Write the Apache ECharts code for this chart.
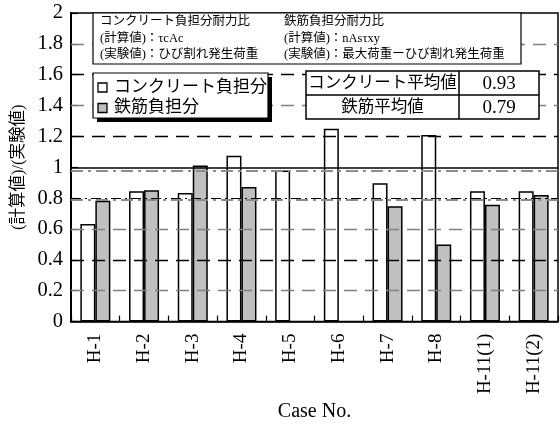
<!DOCTYPE html>
<html>
<head>
<meta charset="utf-8">
<script src="https://cdn.jsdelivr.net/npm/echarts@6/dist/echarts.min.js"></script>
<style>
  html, body { margin: 0; padding: 0; background: #fff; }
  #chart { width: 560px; height: 427px; }
</style>
</head>
<body>
<div id="chart"></div>
<script>
// Specimen labels along the x axis
const cases = ['H-1', 'H-2', 'H-3', 'H-4', 'H-5', 'H-6', 'H-7', 'H-8', 'H-11(1)', 'H-11(2)'];
// Ratio (calculated / experimental) for the concrete share
const concreteRatio = [0.632, 0.844, 0.834, 1.075, 0.979, 1.25, 0.897, 1.209, 0.844, 0.844];
// Ratio (calculated / experimental) for the reinforcement share (no value for H-5, H-6)
const steelRatio = [0.783, 0.852, 1.011, 0.873, null, null, 0.748, 0.500, 0.758, 0.821];
// Averages shown in the summary table
const averageLabels = ['コンクリート平均値', '鉄筋平均値'];
const averageValues = ['0.93', '0.79'];
// Horizontal guide lines
const gridValues = [0.2, 0.4, 0.6, 0.8, 1.0, 1.2, 1.4, 1.6, 1.8];
const refValues = [0.983, 0.79];
// Legend / note texts
const seriesNames = ['コンクリート負担分', '鉄筋負担分'];
const noteLeft = ['コンクリート負担分耐力比', '(計算値)：τcAc', '(実験値)：ひび割れ発生荷重'];
const noteRight = ['鉄筋負担分耐力比', '(計算値)：nAsτxy', '(実験値)：最大荷重ーひび割れ発生荷重'];

const SERIF = '"Liberation Serif", "Noto Sans CJK JP", serif';

const chart = echarts.init(document.getElementById('chart'), null, { renderer: 'canvas' });

// style for each guide line: gray / black dashes, solid at 1, dash-dot at 0.8
function gridStyle(v) {
  if (Math.abs(v - 1.0) < 1e-6) return { color: '#000', width: 1.5, type: 'solid' };
  if (Math.abs(v - 0.8) < 1e-6) return { color: '#000', width: 1.2, type: [10, 4, 2, 4] };
  const gray = [0.2, 0.6, 1.4, 1.8].some(g => Math.abs(g - v) < 1e-6);
  return { color: gray ? '#808080' : '#000', width: 1.3, type: [13, 8] };
}

const guideLines = gridValues.map(v => ({ yAxis: v, lineStyle: gridStyle(v) }))
  .concat(refValues.map(v => ({ yAxis: v, lineStyle: { color: '#8c8c8c', width: 2, type: [12, 5, 3, 5] } })));

const graphics = [];
// note box at the top
graphics.push({
  type: 'rect', z: 100, shape: { x: 93, y: 13, width: 428, height: 51 },
  style: { fill: '#fff', stroke: '#000', lineWidth: 1.2 }
});
noteLeft.forEach((t, i) => graphics.push({
  type: 'text', z: 101, x: 100, y: 22 + i * 16.5,
  style: { text: t, font: '12.5px ' + SERIF, fill: '#000', textVerticalAlign: 'middle' }
}));
noteRight.forEach((t, i) => graphics.push({
  type: 'text', z: 101, x: 284, y: 22 + i * 16.5,
  style: { text: t, font: '12.5px ' + SERIF, fill: '#000', textVerticalAlign: 'middle' }
}));
// legend box with drop shadow
graphics.push({
  type: 'rect', z: 100, shape: { x: 97, y: 77, width: 175, height: 45 },
  style: { fill: '#000' }
});
graphics.push({
  type: 'rect', z: 101, shape: { x: 93, y: 73, width: 175, height: 45 },
  style: { fill: '#fff', stroke: '#000', lineWidth: 1.2 }
});
const swatch = ['#ffffff', '#c0c0c0'];
seriesNames.forEach((n, i) => {
  graphics.push({
    type: 'rect', z: 102, shape: { x: 98, y: 83 + i * 20.5, width: 9, height: 9 },
    style: { fill: swatch[i], stroke: '#000', lineWidth: 1.3 }
  });
  graphics.push({
    type: 'text', z: 102, x: 114, y: 87.5 + i * 20.5,
    style: { text: n, font: '17px ' + SERIF, fill: '#000', textVerticalAlign: 'middle' }
  });
});
// average table
graphics.push({
  type: 'rect', z: 100, shape: { x: 306, y: 71, width: 233, height: 48 },
  style: { fill: '#fff', stroke: '#000', lineWidth: 1.5 }
});
graphics.push({
  type: 'line', z: 101, shape: { x1: 459, y1: 71, x2: 459, y2: 119 },
  style: { stroke: '#000', lineWidth: 1.5 }
});
graphics.push({
  type: 'line', z: 101, shape: { x1: 306, y1: 95, x2: 539, y2: 95 },
  style: { stroke: '#000', lineWidth: 1.5 }
});
averageLabels.forEach((t, i) => {
  graphics.push({
    type: 'text', z: 102, x: 382.5, y: 83.5 + i * 24,
    style: { text: t, font: '16.5px ' + SERIF, fill: '#000', textAlign: 'center', textVerticalAlign: 'middle' }
  });
  graphics.push({
    type: 'text', z: 102, x: 499, y: 84 + i * 24,
    style: { text: averageValues[i], font: '19px ' + SERIF, fill: '#000', textAlign: 'center', textVerticalAlign: 'middle' }
  });
});

const option = {
  backgroundColor: '#fff',
  animation: false,
  grid: {
    left: 71, right: 2, top: 13, bottom: 87,
    show: true, borderColor: '#000', borderWidth: 1.5, backgroundColor: 'transparent'
  },
  xAxis: {
    type: 'category',
    data: cases,
    boundaryGap: true,
    name: 'Case No.',
    nameLocation: 'middle',
    nameGap: 67,
    nameTextStyle: { fontFamily: SERIF, fontSize: 20, color: '#000' },
    axisLine: { lineStyle: { color: '#000', width: 1.5 } },
    axisTick: { show: true, inside: true, length: 6, lineStyle: { color: '#000', width: 1.2 } },
    axisLabel: { rotate: 90, margin: 12, fontFamily: SERIF, fontSize: 19, color: '#000' },
    splitLine: { show: false }
  },
  yAxis: {
    type: 'value',
    min: 0, max: 2, interval: 0.2,
    name: '(計算値)/(実験値)',
    nameLocation: 'middle',
    nameGap: 38,
    nameRotate: 90,
    nameTextStyle: { fontFamily: SERIF, fontSize: 16.5, color: '#000' },
    axisLine: { show: true, lineStyle: { color: '#000', width: 2 } },
    axisTick: { show: true, inside: true, length: 7, lineStyle: { color: '#000', width: 1.2 } },
    axisLabel: {
      margin: 8, fontFamily: SERIF, fontSize: 20.5, color: '#000',
      formatter: v => String(Math.round(v * 10) / 10)
    },
    splitLine: { show: false }
  },
  graphic: graphics,
  series: [
    {
      // guide lines drawn beneath the bars
      type: 'line', data: [], z: 1, silent: true,
      markLine: { silent: true, symbol: 'none', label: { show: false }, data: guideLines, animation: false }
    },
    {
      name: seriesNames[0], type: 'bar', data: concreteRatio, z: 3,
      barWidth: 15, barGap: '0%',
      itemStyle: { color: '#ffffff', borderColor: '#000', borderWidth: 1.5 }
    },
    {
      name: seriesNames[1], type: 'bar', data: steelRatio, z: 3,
      barWidth: 15, barGap: '0%',
      itemStyle: { color: '#c0c0c0', borderColor: '#000', borderWidth: 1.5 }
    }
  ]
};

chart.setOption(option);
</script>
</body>
</html>
